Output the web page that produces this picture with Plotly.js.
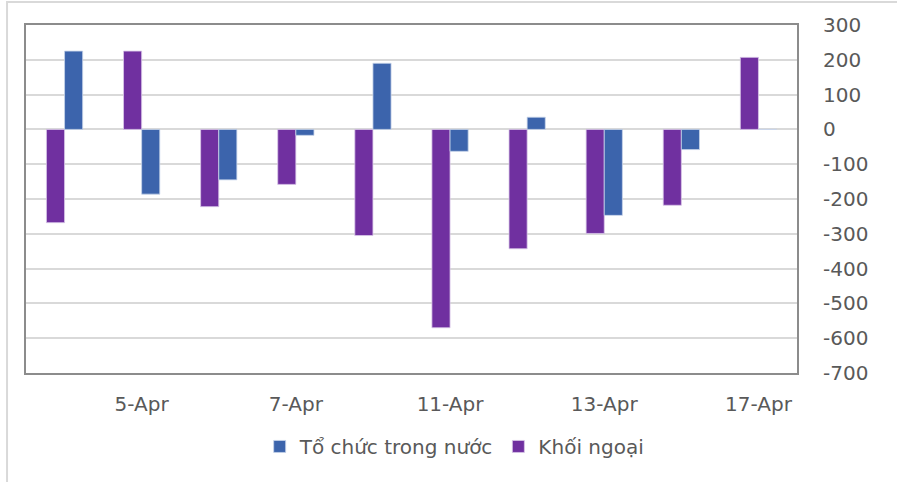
<!DOCTYPE html>
<html>
<head>
<meta charset="utf-8">
<script src="https://cdn.plot.ly/plotly-3.0.1.min.js"></script>
<style>html,body{margin:0;padding:0;background:#fff;}#chart{width:897px;height:482px;}</style>
</head>
<body>
<div id="chart"></div>
<script>
const categories = ["4-Apr","5-Apr","6-Apr","7-Apr","10-Apr","11-Apr","12-Apr","13-Apr","14-Apr","17-Apr"];
const tickLabels = ["5-Apr","7-Apr","11-Apr","13-Apr","17-Apr"];
const khoiNgoai = [-268, 225, -222, -158, -305, -570, -343, -299, -218, 207];
const toChuc = [225, -186, -145, -17, 190, -63, 35, -247, -58, 0];
const yTicks = [300,200,100,0,-100,-200,-300,-400,-500,-600,-700];

const traces = [
  {type:"bar", name:"Khối ngoại", x:categories, y:khoiNgoai, marker:{color:"#7030A0", line:{color:"#d9c8e8", width:0.8}}, legendrank:2},
  {type:"bar", name:"Tổ chức trong nước", x:categories, y:toChuc, marker:{color:"#3C64AC", line:{color:"#c8d4ea", width:0.8}}, legendrank:1}
];
const layout = {
  width:897, height:482,
  margin:{l:26, r:100, t:25, b:109},
  paper_bgcolor:"#fff", plot_bgcolor:"#fff",
  font:{family:"DejaVu Sans", color:"#595959", size:20},
  barmode:"group", bargap:0.53, bargroupgap:0,
  xaxis:{type:"category", range:[-0.5,9.5], tickmode:"array", tickvals:tickLabels, ticktext:tickLabels,
    showgrid:false, zeroline:false, showline:true, linecolor:"#8c8c8c", linewidth:2, mirror:true,
    ticks:"", tickfont:{size:20, color:"#595959"}, ticklabelstandoff:12},
  yaxis:{side:"right", range:[-700,300], tickmode:"array", tickvals:yTicks, ticktext:yTicks.map(String),
    showgrid:true, gridcolor:"#d9d9d9", gridwidth:2, zeroline:true, zerolinecolor:"#d9d9d9", zerolinewidth:2,
    showline:true, linecolor:"#8c8c8c", linewidth:2, mirror:true, ticks:"", tickfont:{size:20, color:"#595959"}, ticklabelstandoff:20},
  showlegend:true,
  legend:{orientation:"h", x:0.556, xanchor:"center", y:-0.155, yanchor:"top", font:{size:20, color:"#595959"}, itemwidth:30, traceorder:"normal"},
  shapes:[{type:"rect", xref:"paper", yref:"paper", x0:-0.0246, x1:2, y0:-2, y1:1.066, line:{color:"#d9d9d9", width:2}, fillcolor:"rgba(0,0,0,0)", layer:"below"}]
};
Plotly.newPlot("chart", traces, layout, {displayModeBar:false, staticPlot:true});
</script>
</body>
</html>
